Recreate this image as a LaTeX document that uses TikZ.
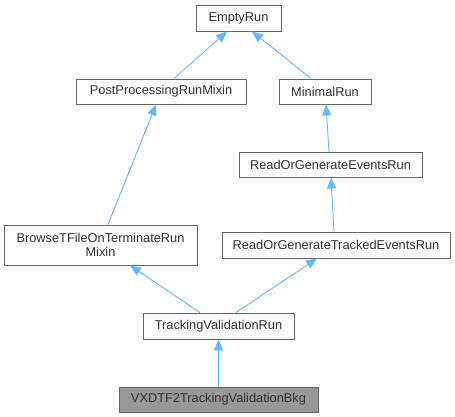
\documentclass[tikz,border=0pt]{standalone}
\usepackage{fontspec}
\setmainfont{Liberation Sans}
\usetikzlibrary{arrows.meta}
\definecolor{edgeblue}{HTML}{63B8FF}
\definecolor{boxline}{HTML}{666666}
\definecolor{txt}{HTML}{303030}
\definecolor{hilite}{HTML}{999999}
\begin{document}
\begin{tikzpicture}[x=1pt,y=-1pt,
  cls/.style={draw=boxline,line width=0.9pt,fill=white,rectangle,inner sep=0pt,
    text=txt,font=\fontsize{12.8}{14.5}\selectfont,align=center,minimum height=26pt},
  edge/.style={draw=edgeblue,line width=0.9pt,-{Triangle[length=11pt,width=9pt]}}]
\useasboundingbox (0,0) rectangle (455,417);
\node[cls,minimum width=85pt] (er) at (238.5,18) {EmptyRun};
\node[cls,minimum width=170pt,minimum height=25pt] (pp) at (161,91.5) {PostProcessingRunMixin};
\node[cls,minimum width=92pt,minimum height=25pt] (mr) at (325,91.5) {MinimalRun};
\node[cls,minimum width=183pt,minimum height=25pt] (rg) at (330.5,164.5) {ReadOrGenerateEventsRun};
\node[cls,minimum width=193pt,minimum height=40pt] (bt) at (100.5,245) {BrowseTFileOnTerminateRun\\[-1pt]Mixin};
\node[cls,minimum width=228pt] (rt) at (336,245) {ReadOrGenerateTrackedEventsRun};
\node[cls,minimum width=151pt] (tv) at (218.5,326) {TrackingValidationRun};
\node[cls,minimum width=199pt,minimum height=25pt,fill=hilite] (vx) at (218.5,399.5) {VXDTF2TrackingValidationBkg};
\draw[edge] ([xshift=13pt]pp.north) -- ([xshift=-11.5pt]er.south);
\draw[edge] ([xshift=-14pt]mr.north) -- ([xshift=13.5pt]er.south);
\draw[edge] ([xshift=7.5pt]bt.north) -- ([xshift=-5pt]pp.south);
\draw[edge] ([xshift=-1.5pt]rg.north) -- ([xshift=1pt]mr.south);
\draw[edge] ([xshift=-2pt]rt.north) -- ([xshift=0.5pt]rg.south);
\draw[edge] ([xshift=-18.5pt]tv.north) -- ([xshift=29.5pt]bt.south);
\draw[edge] ([xshift=17.5pt]tv.north) -- ([xshift=-19pt]rt.south);
\draw[edge] (vx.north) -- (tv.south);
\end{tikzpicture}
\end{document}
